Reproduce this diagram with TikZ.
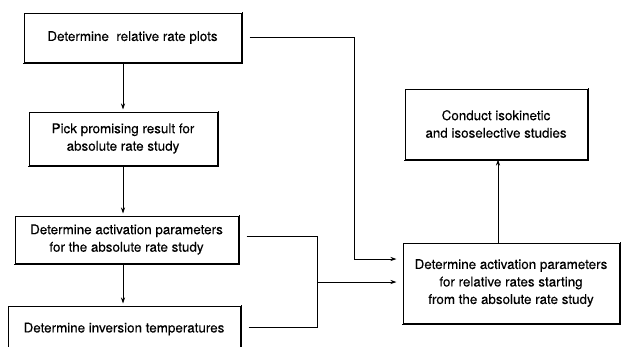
\documentclass[tikz,border=0pt]{standalone}
\usepackage{fontspec}
\setmainfont{TeX Gyre Heros}[FakeBold=0.25]
\usetikzlibrary{arrows.meta}
\tikzset{
  box/.style={draw, fill=white, line width=1pt, align=center, inner sep=2pt,
    font=\fontsize{13.4}{17.5}\selectfont,
    append after command={
      \pgfextra{\draw[line width=1.4pt, line cap=rect]
        ([xshift=0.9pt,yshift=0.3pt]\tikzlastnode.north east) --
        ([xshift=0.9pt,yshift=-0.9pt]\tikzlastnode.south east) --
        ([xshift=-0.3pt,yshift=-0.9pt]\tikzlastnode.south west);}}},
  conn/.style={line width=0.9pt},
  arr/.style={conn, -{Stealth[length=6pt,width=4pt]}, shorten >=2pt},
}
\begin{document}
\begin{tikzpicture}[x=1pt,y=-1pt]
\useasboundingbox (0,0) rectangle (621,346);
\clip (0,0) rectangle (621,346);
\node[box, minimum width=217pt, minimum height=49pt] (b1) at (132.5,37.5) {Determine\ \ relative rate plots};
\node[box, minimum width=188pt, minimum height=53pt] (b2) at (123,138.5) {Pick promising result for\\absolute rate study};
\node[box, minimum width=223pt, minimum height=47pt] (b3) at (126.5,239.5) {Determine activation parameters\\for the absolute rate study};
\node[box, minimum width=232pt, minimum height=46pt] (b4) at (124,329) {Determine inversion temperatures};
\node[box, minimum width=182pt, minimum height=70pt] (b5) at (496,124) {Conduct isokinetic\\and isoselective studies};
\node[box, minimum width=216pt, minimum height=80pt] (b6) at (511,283) {Determine activation parameters\\for relative rates starting\\from the absolute rate study};
\coordinate (col) at (123,0);
\coordinate (k) at (354,259);
\coordinate (j) at (317,282);
\coordinate (up) at (498,0);
\draw[arr] (b1.south -| col) -- (b2.north -| col);
\draw[arr] (b2.south -| col) -- (b3.north -| col);
\draw[arr] (b3.south -| col) -- (b4.north -| col);
\draw[conn] ([xshift=8pt]b1.east) -| (k);
\draw[arr, shorten >=6pt] (k) -- (b6.west |- k);
\draw[conn] ([xshift=8pt]b3.east |- 0,236) -| (j);
\draw[conn] ([xshift=8pt]b4.east |- 0,327) -| (j);
\draw[arr, shorten >=6pt] (j) -- (b6.west |- j);
\draw[arr, shorten >=0pt] (b6.north -| up) -- (b5.south -| up);
\end{tikzpicture}
\end{document}
